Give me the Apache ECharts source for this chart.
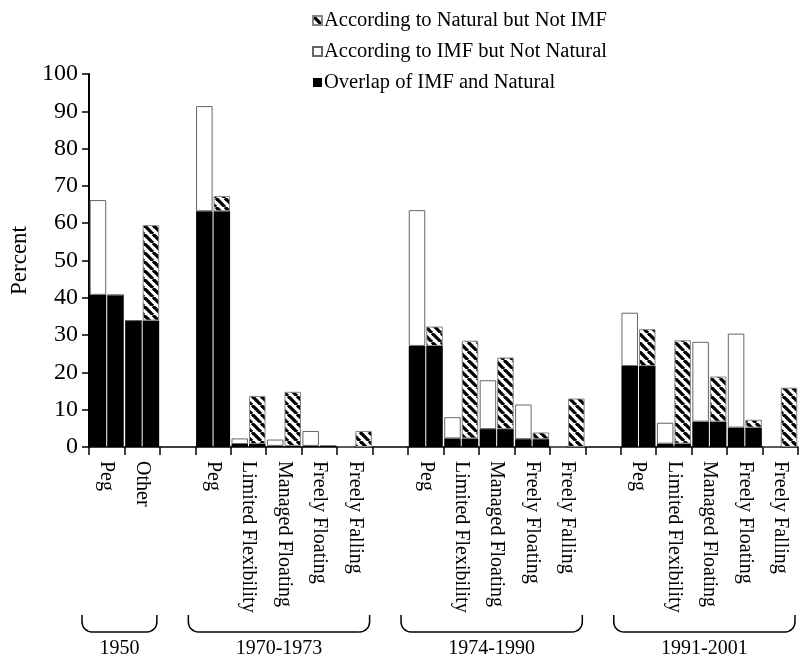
<!DOCTYPE html>
<html>
<head>
<meta charset="utf-8">
<script src="https://cdn.jsdelivr.net/npm/echarts@6/dist/echarts.min.js"></script>
<style>
html,body{margin:0;padding:0;background:#fff;}
#chart{width:800px;height:657px;}
</style>
</head>
<body>
<div id="chart"></div>
<script>
// Category slots (empty strings are spacer slots between period groups)
const categories = ['Peg','Other','',
  'Peg','Limited Flexibility','Managed Floating','Freely Floating','Freely Falling','',
  'Peg','Limited Flexibility','Managed Floating','Freely Floating','Freely Falling','',
  'Peg','Limited Flexibility','Managed Floating','Freely Floating','Freely Falling'];
// Period groups: [label, first slot index, last slot index]
const groups = [['1950',0,1],['1970-1973',3,7],['1974-1990',9,13],['1991-2001',15,19]];
// Percent values
const overlap     = [40.8, 33.9, null, 63.2, 0.8, 0.3, 0.3, 0, null, 27.1, 2.3, 4.8, 2.1, 0, null, 21.7, 0.9, 6.8, 5.2, 0];
const imfOnly     = [25.4, 0, null, 28.2, 1.5, 1.7, 4.0, 0, null, 36.4, 5.7, 13.1, 9.3, 0, null, 14.3, 5.6, 21.4, 25.2, 0];
const naturalOnly = [0, 25.6, null, 4.1, 12.9, 14.5, 0.2, 4.3, null, 5.2, 26.2, 19.2, 1.8, 13.0, null, 9.9, 27.7, 12.1, 2.1, 15.9];
const yTicks = [0,10,20,30,40,50,60,70,80,90,100];

const NAT = 'According to Natural but Not IMF';
const IMF = 'According to IMF but Not Natural';
const OVL = 'Overlap of IMF and Natural';
const FONT = "'Liberation Serif', 'DejaVu Serif', serif";

// hatch pattern "\\"
const tile = document.createElement('canvas');
const S = 9;
tile.width = S; tile.height = S;
const c = tile.getContext('2d');
c.fillStyle = '#fff'; c.fillRect(0,0,S,S);
c.strokeStyle = '#000'; c.lineWidth = 3.3;
for (const x0 of [-S, 0, S]) { c.beginPath(); c.moveTo(x0, 0); c.lineTo(x0 + S, S); c.stroke(); }
const hatch = {image: tile, repeat: 'repeat'};

const chart = echarts.init(document.getElementById('chart'));
const blackStyle = {color: '#000'};
const whiteStyle = {color: '#fff', borderColor: '#666', borderWidth: 1};
const hatchStyle = {color: hatch, borderColor: '#888', borderWidth: 1};

chart.setOption({
  animation: false,
  backgroundColor: '#fff',
  textStyle: {fontFamily: FONT, color: '#000'},
  legend: {
    orient: 'vertical', left: 307, top: 5, itemGap: 10, itemWidth: 9, itemHeight: 9,
    icon: 'rect', selectedMode: false,
    textStyle: {fontFamily: FONT, fontSize: 20.5, color: '#000', padding: [0,0,0,-3]},
    data: [NAT, IMF, OVL]
  },
  grid: {left: 87, right: 2, top: 74, bottom: 210, containLabel: false},
  xAxis: {
    type: 'category', data: categories,
    axisLine: {lineStyle: {color: '#000', width: 1.5}},
    axisTick: {show: true, alignWithLabel: false, length: 8, lineStyle: {color: '#000', width: 1.5}, interval: 0},
    axisLabel: {rotate: -90, interval: 0, fontSize: 20, fontFamily: FONT, color: '#000', margin: 14, padding: [4,0,0,0]}
  },
  yAxis: {
    type: 'value', min: 0, max: 100, interval: 10,
    name: 'Percent', nameLocation: 'middle', nameRotate: 90, nameGap: 58,
    nameTextStyle: {fontFamily: FONT, fontSize: 23, color: '#000'},
    axisLine: {show: true, lineStyle: {color: '#000', width: 2}},
    axisTick: {show: true, length: 7, lineStyle: {color: '#000', width: 1.5}},
    axisLabel: {fontSize: 24, fontFamily: FONT, color: '#000', margin: 11,
      formatter: v => yTicks.includes(v) ? String(v) : ''},
    splitLine: {show: false}
  },
  series: [
    {name: OVL, type: 'bar', stack: 'imf', data: overlap, itemStyle: blackStyle, barGap: '6%', barCategoryGap: '4%'},
    {name: IMF, type: 'bar', stack: 'imf', data: imfOnly, itemStyle: whiteStyle},
    {name: OVL, type: 'bar', stack: 'nat', data: overlap, itemStyle: blackStyle},
    {name: NAT, type: 'bar', stack: 'nat', data: naturalOnly, itemStyle: hatchStyle}
  ]
});

// Period braces and labels, positioned from the category axis
const half = (chart.convertToPixel({xAxisIndex: 0}, 1) - chart.convertToPixel({xAxisIndex: 0}, 0)) / 2;
const braceTop = 615, braceBot = 632, rad = 10;
const lineStyle = {stroke: '#000', lineWidth: 1.5, fill: null};
const elements = [];
groups.forEach(([label, a, b]) => {
  const x1 = chart.convertToPixel({xAxisIndex: 0}, a) - half - 7;
  const x2 = chart.convertToPixel({xAxisIndex: 0}, b) + half - 3;
  elements.push({type: 'line', shape: {x1: x1, y1: braceTop, x2: x1, y2: braceBot - rad}, style: lineStyle});
  elements.push({type: 'arc', shape: {cx: x1 + rad, cy: braceBot - rad, r: rad, startAngle: Math.PI / 2, endAngle: Math.PI, clockwise: true}, style: lineStyle});
  elements.push({type: 'line', shape: {x1: x1 + rad, y1: braceBot, x2: x2 - rad, y2: braceBot}, style: lineStyle});
  elements.push({type: 'arc', shape: {cx: x2 - rad, cy: braceBot - rad, r: rad, startAngle: 0, endAngle: Math.PI / 2, clockwise: true}, style: lineStyle});
  elements.push({type: 'line', shape: {x1: x2, y1: braceTop, x2: x2, y2: braceBot - rad}, style: lineStyle});
  elements.push({
    type: 'text', x: (x1 + x2) / 2, y: 649,
    style: {text: label, fontFamily: FONT, fontSize: 20, fill: '#000', align: 'center', verticalAlign: 'middle'}
  });
});
chart.setOption({graphic: {elements}});
</script>
</body>
</html>
